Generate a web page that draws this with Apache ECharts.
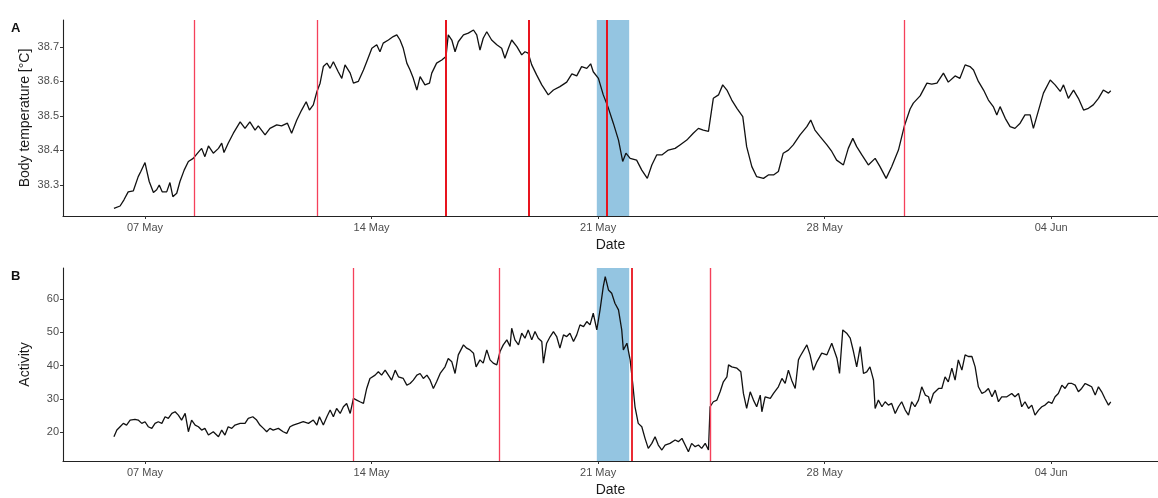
<!DOCTYPE html>
<html>
<head>
<meta charset="utf-8">
<script src="https://cdn.jsdelivr.net/npm/echarts@6/dist/echarts.min.js"></script>
<style>
  html, body { margin: 0; padding: 0; background: #ffffff; }
  #chart { width: 1158px; height: 498px; }
</style>
</head>
<body>
<div id="chart"></div>
<script>
// Time is expressed as day of May (fractional); 32 = 01 Jun, 35 = 04 Jun.
const tickDays = [7, 14, 21, 28, 35];
const tickLabels = ['07 May', '14 May', '21 May', '28 May', '04 Jun'];

const tempTicks = [38.3, 38.4, 38.5, 38.6, 38.7];
const activityTicks = [20, 30, 40, 50, 60];

// Body temperature [°C]
const tempDays = [
  6.04, 6.23, 6.35, 6.48, 6.64, 6.79, 6.87, 7.00, 7.05, 7.13, 7.26, 7.36, 7.44, 7.53, 7.67, 7.77, 7.86, 7.98,
  8.08, 8.21, 8.34, 8.49, 8.65, 8.75, 8.85, 8.96, 9.11, 9.27, 9.37, 9.44, 9.57, 9.73, 9.94, 10.09, 10.24, 10.40,
  10.50, 10.71, 10.86, 11.07, 11.22, 11.40, 11.53, 11.69, 11.84, 11.98, 12.08, 12.20, 12.31, 12.41, 12.51, 12.62,
  12.72, 12.82, 12.97, 13.08, 13.18, 13.34, 13.44, 13.59, 13.75, 13.85, 14.01, 14.16, 14.26, 14.36, 14.52, 14.67,
  14.78, 14.88, 14.98, 15.09, 15.19, 15.29, 15.40, 15.50, 15.65, 15.79, 15.86, 16.01, 16.17, 16.30, 16.37, 16.48,
  16.58, 16.68, 16.84, 16.99, 17.15, 17.25, 17.35, 17.45, 17.56, 17.71, 17.87, 18.02, 18.12, 18.23, 18.33, 18.49,
  18.64, 18.74, 18.84, 18.95, 19.10, 19.26, 19.46, 19.62, 19.82, 20.03, 20.19, 20.34, 20.49, 20.65, 20.77, 20.85,
  21.01, 21.16, 21.32, 21.47, 21.63, 21.76, 21.86, 21.99, 22.19, 22.35, 22.52, 22.66, 22.81, 22.97, 23.17, 23.38,
  23.53, 23.74, 23.94, 24.10, 24.25, 24.41, 24.56, 24.72, 24.85, 24.98, 25.13, 25.29, 25.47, 25.59, 25.75, 25.90,
  26.11, 26.26, 26.42, 26.57, 26.72, 26.88, 27.03, 27.24, 27.45, 27.57, 27.70, 27.86, 28.07, 28.22, 28.37, 28.58,
  28.73, 28.87, 28.99, 29.15, 29.35, 29.56, 29.71, 29.90, 30.07, 30.28, 30.46, 30.64, 30.74, 30.95, 31.16, 31.31,
  31.47, 31.67, 31.82, 32.03, 32.18, 32.34, 32.49, 32.60, 32.75, 32.91, 33.06, 33.21, 33.32, 33.42, 33.58, 33.73,
  33.88, 34.04, 34.19, 34.35, 34.45, 34.61, 34.76, 34.97, 35.12, 35.28, 35.38, 35.53, 35.69, 35.84, 36.00, 36.15,
  36.30, 36.46, 36.61, 36.77, 36.84
];
const tempValues = [
  38.232, 38.239, 38.257, 38.280, 38.283, 38.324, 38.339, 38.365, 38.343, 38.310, 38.278, 38.286, 38.300, 38.280, 38.280, 38.307, 38.266, 38.276,
  38.310, 38.343, 38.368, 38.377, 38.395, 38.406, 38.382, 38.413, 38.392, 38.406, 38.421, 38.394, 38.421, 38.450, 38.483, 38.464, 38.483, 38.459,
  38.471, 38.445, 38.464, 38.474, 38.471, 38.479, 38.450, 38.488, 38.517, 38.541, 38.517, 38.532, 38.570, 38.595, 38.643, 38.653,
  38.638, 38.657, 38.628, 38.609, 38.648, 38.624, 38.595, 38.600, 38.633, 38.657, 38.696, 38.706, 38.686, 38.711, 38.720, 38.730,
  38.735, 38.720, 38.696, 38.653, 38.633, 38.609, 38.575, 38.614, 38.590, 38.595, 38.624, 38.653, 38.662, 38.672, 38.735, 38.720,
  38.686, 38.715, 38.735, 38.740, 38.749, 38.735, 38.691, 38.725, 38.744, 38.720, 38.706, 38.696, 38.667, 38.696, 38.720, 38.701,
  38.677, 38.686, 38.682, 38.648, 38.619, 38.590, 38.561, 38.575, 38.585, 38.598, 38.622, 38.616, 38.643, 38.638, 38.651, 38.628,
  38.609, 38.561, 38.522, 38.479, 38.430, 38.368, 38.392, 38.377, 38.372, 38.343, 38.319, 38.358, 38.387, 38.387, 38.401, 38.406,
  38.416, 38.430, 38.450, 38.464, 38.459, 38.455, 38.551, 38.561, 38.590, 38.575, 38.546, 38.522, 38.498, 38.411, 38.353, 38.324,
  38.319, 38.329, 38.329, 38.339, 38.392, 38.401, 38.416, 38.445, 38.469, 38.488, 38.459, 38.440, 38.416, 38.397, 38.372, 38.358,
  38.406, 38.435, 38.411, 38.387, 38.358, 38.377, 38.353, 38.319, 38.353, 38.401, 38.470, 38.520, 38.537, 38.558, 38.595, 38.592,
  38.595, 38.624, 38.598, 38.616, 38.609, 38.648, 38.643, 38.633, 38.600, 38.575, 38.546, 38.527, 38.503, 38.527, 38.493, 38.469,
  38.464, 38.479, 38.503, 38.503, 38.464, 38.517, 38.566, 38.604, 38.590, 38.571, 38.590, 38.551, 38.575, 38.551, 38.517, 38.522,
  38.532, 38.551, 38.575, 38.566, 38.573
];

// Activity
const activityDays = [
  6.04, 6.13, 6.23, 6.33, 6.43, 6.54, 6.69, 6.79, 6.90, 7.00, 7.10, 7.21, 7.31, 7.41, 7.52, 7.62, 7.72, 7.83, 7.93,
  8.03, 8.13, 8.24, 8.34, 8.44, 8.55, 8.65, 8.75, 8.85, 8.96, 9.11, 9.27, 9.37, 9.47, 9.57, 9.68, 9.78, 9.94, 10.09,
  10.19, 10.33, 10.45, 10.55, 10.66, 10.76, 10.86, 10.96, 11.12, 11.27, 11.38, 11.48, 11.58, 11.74, 11.89, 12.05,
  12.20, 12.31, 12.39, 12.51, 12.62, 12.72, 12.82, 12.92, 13.03, 13.13, 13.23, 13.34, 13.44, 13.54, 13.64, 13.75,
  13.85, 13.95, 14.11, 14.21, 14.31, 14.42, 14.52, 14.62, 14.73, 14.83, 14.98, 15.09, 15.19, 15.29, 15.40, 15.50,
  15.60, 15.71, 15.81, 15.91, 16.01, 16.12, 16.27, 16.37, 16.48, 16.58, 16.68, 16.84, 16.94, 17.04, 17.15, 17.23,
  17.35, 17.45, 17.56, 17.66, 17.76, 17.87, 17.97, 18.07, 18.18, 18.28, 18.33, 18.43, 18.54, 18.64, 18.74, 18.84,
  18.95, 19.05, 19.15, 19.26, 19.31, 19.41, 19.52, 19.62, 19.72, 19.82, 19.93, 20.03, 20.13, 20.24, 20.34, 20.44,
  20.55, 20.65, 20.75, 20.85, 20.96, 21.06, 21.16, 21.22, 21.32, 21.42, 21.52, 21.63, 21.73, 21.78, 21.89, 21.99,
  22.07, 22.14, 22.24, 22.35, 22.45, 22.55, 22.66, 22.76, 22.86, 22.97, 23.07, 23.22, 23.38, 23.48, 23.59, 23.69,
  23.79, 23.89, 24.00, 24.10, 24.20, 24.31, 24.41, 24.46, 24.56, 24.67, 24.77, 24.87, 24.98, 25.03, 25.13, 25.29,
  25.41, 25.49, 25.59, 25.70, 25.80, 25.90, 26.01, 26.06, 26.16, 26.32, 26.42, 26.57, 26.68, 26.78, 26.88, 26.98,
  27.09, 27.19, 27.24, 27.45, 27.55, 27.65, 27.76, 27.91, 28.07, 28.22, 28.38, 28.46, 28.56, 28.68, 28.79, 28.89,
  28.99, 29.10, 29.20, 29.30, 29.40, 29.51, 29.56, 29.66, 29.77, 29.87, 29.97, 30.07, 30.18, 30.28, 30.38, 30.49,
  30.59, 30.69, 30.79, 30.90, 31.00, 31.11, 31.21, 31.26, 31.36, 31.52, 31.62, 31.72, 31.82, 31.93, 32.03, 32.13,
  32.24, 32.34, 32.44, 32.55, 32.65, 32.75, 32.86, 32.96, 33.06, 33.17, 33.27, 33.37, 33.47, 33.63, 33.78, 33.88,
  33.99, 34.09, 34.19, 34.30, 34.40, 34.50, 34.61, 34.71, 34.81, 34.92, 35.02, 35.12, 35.22, 35.33, 35.43, 35.53,
  35.64, 35.74, 35.84, 35.94, 36.05, 36.15, 36.25, 36.36, 36.46, 36.56, 36.66, 36.77, 36.84
];
const activityValues = [
  18.6, 20.6, 21.6, 22.6, 22.1, 23.6, 23.8, 23.6, 22.6, 23.1, 21.6, 21.1, 22.6, 23.1, 22.6, 24.6, 24.1, 25.6, 26.1,
  25.1, 23.6, 25.6, 20.1, 23.6, 22.1, 21.6, 20.6, 21.1, 19.1, 20.1, 18.6, 20.6, 19.1, 21.6, 21.1, 22.1, 22.6, 22.6,
  24.1, 24.6, 23.6, 22.1, 21.1, 20.1, 21.1, 20.6, 21.1, 20.1, 19.6, 21.6, 22.1, 22.6, 23.1, 22.6,
  23.6, 22.1, 24.6, 22.1, 24.6, 26.6, 24.6, 27.1, 25.6, 27.6, 28.6, 25.6, 30.1, 29.6, 29.1, 28.6,
  33.1, 36.1, 37.1, 38.1, 37.1, 38.6, 37.1, 35.6, 38.6, 36.6, 36.1, 34.1, 34.6, 35.6, 37.1, 37.6,
  36.1, 37.1, 35.6, 33.1, 35.1, 37.6, 39.6, 42.1, 41.1, 37.6, 43.2, 46.2, 45.2, 44.7, 43.7, 39.6,
  41.7, 40.7, 44.7, 41.7, 40.7, 40.2, 44.2, 46.2, 47.7, 45.7, 51.2, 47.7, 46.2, 49.7, 48.2, 50.7,
  47.7, 50.2, 48.2, 47.2, 40.7, 46.7, 48.7, 50.2, 48.7, 45.2, 49.2, 48.7, 49.7, 47.2, 49.2, 52.2,
  51.7, 53.2, 52.2, 55.7, 50.7, 56.7, 63.7, 66.7, 62.7, 61.7, 58.7, 56.7, 50.7, 44.7, 46.7, 41.7,
  34.6, 27.6, 22.6, 21.6, 18.1, 15.1, 16.6, 18.6, 16.1, 14.6, 16.1, 16.6, 17.6, 17.1, 18.1, 16.1,
  14.1, 16.6, 15.6, 16.1, 15.1, 16.6, 14.6, 27.6, 29.1, 29.6, 32.1, 35.1, 36.6, 40.2, 39.6, 39.2,
  38.1, 31.6, 27.1, 32.1, 29.6, 27.6, 31.1, 26.1, 30.6, 30.1, 31.6, 33.6, 36.1, 34.6, 38.6, 35.6,
  33.1, 41.7, 42.7, 46.2, 43.2, 38.6, 41.1, 43.7, 43.2, 46.7, 42.2, 37.6, 50.7, 49.7, 48.2, 44.2,
  39.6, 45.7, 37.6, 38.1, 39.6, 35.6, 27.1, 29.6, 27.6, 29.1, 28.1, 28.6, 25.6, 27.6, 29.1, 26.6,
  25.1, 29.1, 27.6, 29.6, 33.6, 31.1, 30.6, 28.6, 31.6, 33.1, 33.1, 36.6, 35.1, 39.2, 35.6, 41.7,
  38.6, 43.2, 42.7, 42.7, 39.6, 33.6, 31.6, 32.1, 33.1, 30.6, 32.6, 29.1, 30.6, 30.6, 31.6, 30.6,
  31.6, 27.6, 29.1, 27.1, 28.1, 25.1, 26.6, 27.6, 28.1, 29.1, 28.6, 30.6, 31.6, 34.1, 33.1, 34.6,
  34.6, 34.1, 32.1, 33.1, 34.6, 34.1, 33.6, 31.1, 33.6, 32.1, 30.1, 28.1, 29.1
];

// Event markers (vertical lines) and the shaded interval
const tempEventDays = [8.51, 12.32, 16.30, 18.87, 21.28, 30.45];
const activityEventDays = [13.43, 17.94, 22.05, 24.46];
const bandStart = 20.96;
const bandEnd = 21.96;

// ---- styling ----
const tempEventWidths = [1.3, 1.3, 2, 2, 2, 1.3];
const activityEventWidths = [1.3, 1.3, 1.8, 1.4];
const FONT = '"Liberation Sans", Arial, Helvetica, sans-serif';
const X_MIN = 4.466, X_MAX = 38.30;

function pairs(xs, ys) { return xs.map((x, i) => [x, ys[i]]); }

function xAxisFor(gridIndex) {
  return {
    type: 'value', gridIndex, min: X_MIN, max: X_MAX,
    name: 'Date', nameLocation: 'middle', nameGap: 22,
    nameTextStyle: { fontFamily: FONT, fontSize: 14, color: '#1a1a1a' },
    splitLine: { show: false },
    axisLine: { lineStyle: { color: '#222', width: 1.1 } },
    axisTick: { customValues: tickDays, length: 3, lineStyle: { color: '#333' } },
    axisLabel: {
      customValues: tickDays, margin: 6,
      fontFamily: FONT, fontSize: 11, color: '#4d4d4d',
      formatter: v => tickLabels[tickDays.indexOf(v)] || ''
    }
  };
}

function yAxisFor(gridIndex, name, min, max, ticks, digits) {
  return {
    type: 'value', gridIndex, min, max,
    name, nameLocation: 'middle', nameGap: 31, nameMoveOverlap: false,
    nameTextStyle: { fontFamily: FONT, fontSize: 14, color: '#1a1a1a' },
    splitLine: { show: false },
    axisLine: { show: true, lineStyle: { color: '#222', width: 1.1 } },
    axisTick: { show: true, customValues: ticks, length: 3, lineStyle: { color: '#333' } },
    axisLabel: {
      customValues: ticks, margin: 4,
      fontFamily: FONT, fontSize: 11, color: '#4d4d4d',
      formatter: v => v.toFixed(digits)
    }
  };
}

function eventLines(days, widths) {
  return {
    silent: true, symbol: 'none',
    label: { show: false },
    data: days.map((d, i) => ({
      xAxis: d,
      lineStyle: { color: widths[i] > 1.5 ? '#e8141e' : '#f5405a', width: widths[i], type: 'solid' }
    }))
  };
}

const band = {
  silent: true,
  itemStyle: { color: 'rgba(107,174,214,0.72)' },
  data: [[{ xAxis: bandStart }, { xAxis: bandEnd }]]
};

const chart = echarts.init(document.getElementById('chart'), null, { renderer: 'canvas' });
chart.setOption({
  animation: false,
  backgroundColor: '#ffffff',
  grid: [
    { left: 63, right: 0, top: 20, height: 196 },
    { left: 63, right: 0, top: 268, height: 193 }
  ],
  xAxis: [xAxisFor(0), xAxisFor(1)],
  yAxis: [
    yAxisFor(0, 'Body temperature [°C]', 38.21, 38.778, tempTicks, 1),
    yAxisFor(1, 'Activity', 11.3, 69.3, activityTicks, 0)
  ],
  graphic: [
    { type: 'text', left: 11, top: 22, style: { text: 'A', font: 'bold 13px ' + FONT, fill: '#111' } },
    { type: 'text', left: 11, top: 270, style: { text: 'B', font: 'bold 13px ' + FONT, fill: '#111' } }
  ],
  series: [
    {
      type: 'line', xAxisIndex: 0, yAxisIndex: 0,
      data: pairs(tempDays, tempValues),
      showSymbol: false, smooth: false,
      lineStyle: { color: '#111', width: 1.3 },
      markArea: band,
      markLine: eventLines(tempEventDays, tempEventWidths)
    },
    {
      type: 'line', xAxisIndex: 1, yAxisIndex: 1,
      data: pairs(activityDays, activityValues),
      showSymbol: false, smooth: false,
      lineStyle: { color: '#111', width: 1.3 },
      markArea: band,
      markLine: eventLines(activityEventDays, activityEventWidths)
    }
  ]
});
</script>
</body>
</html>
